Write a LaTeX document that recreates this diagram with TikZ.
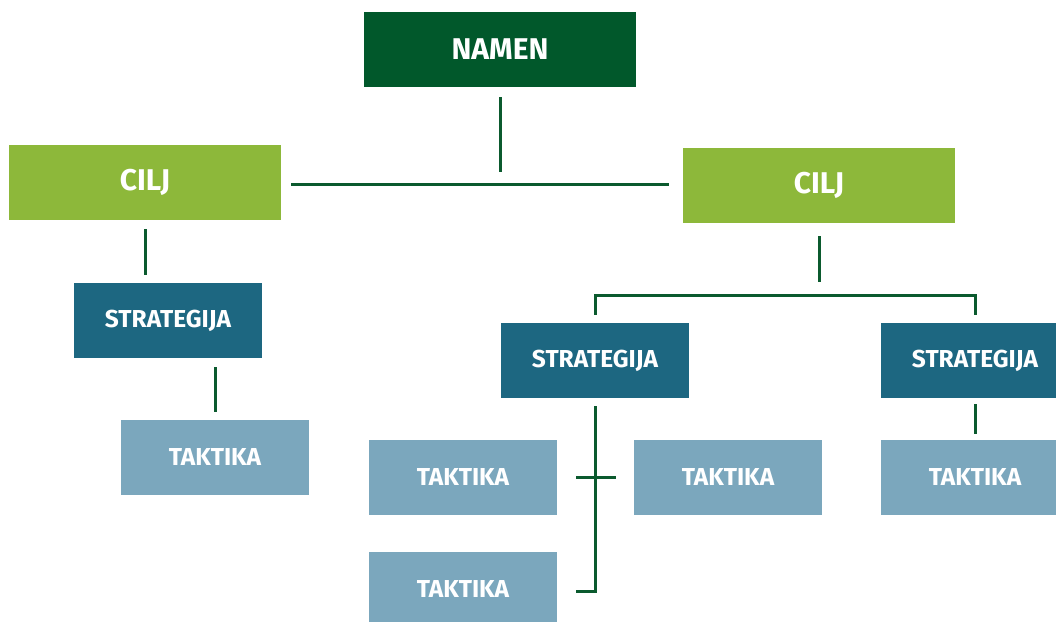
\documentclass[tikz,border=0pt]{standalone}
\usepackage{fontspec}
\setmainfont{Fira Sans}
\usetikzlibrary{calc}
\definecolor{cNamen}{HTML}{01582B}
\definecolor{cCilj}{HTML}{8DB83A}
\definecolor{cStrat}{HTML}{1D6781}
\definecolor{cTak}{HTML}{7BA7BD}
\definecolor{cLine}{HTML}{0B5A2E}
\tikzset{
  box/.style={inner sep=0pt, text=white, font=\bfseries},
  bigbox/.style={box, minimum width=272pt, minimum height=75pt, font=\bfseries\fontsize{30}{32}\selectfont},
  smallbox/.style={box, minimum width=188pt, minimum height=75pt, font=\bfseries\fontsize{24.5}{26}\selectfont},
  namenbox/.style={bigbox, fill=cNamen},
  ciljbox/.style={bigbox, fill=cCilj},
  stratbox/.style={smallbox, fill=cStrat},
  takbox/.style={smallbox, fill=cTak},
  conn/.style={draw=cLine, line width=3pt}
}
\begin{document}
\begin{tikzpicture}[x=1pt,y=-1pt]
\useasboundingbox (0,0) rectangle (1056,621);
\node[namenbox] (namen) at (500,49.5) {NAMEN};
\node[ciljbox] (cilj1) at (145,182.5) {CILJ};
\node[ciljbox] (cilj2) at (819,185.5) {CILJ};
\node[stratbox] (strat1) at (168,320.5) {STRATEGIJA};
\node[stratbox] (strat2) at (595,360.5) {STRATEGIJA};
\node[stratbox] (strat3) at (975,360.5) {STRATEGIJA};
\node[takbox] (tak0) at (215,457.5) {TAKTIKA};
\node[takbox] (tak1) at (463,477.5) {TAKTIKA};
\node[takbox] (tak2) at (728,477.5) {TAKTIKA};
\node[takbox] (tak4) at (975,477.5) {TAKTIKA};
\node[takbox] (tak3) at (463,589.5) {TAKTIKA};
\coordinate (mid) at (500,184);
% connectors
\draw[conn, shorten <=10pt, shorten >=12pt] (namen.south) -- (namen.south |- mid);
\draw[conn, shorten <=10pt, shorten >=14pt] (cilj1.east |- mid) -- (cilj2.west |- mid);
\draw[conn, shorten <=9pt, shorten >=8pt] (cilj1.south) -- (cilj1.south |- strat1.north);
\draw[conn, shorten <=9pt, shorten >=8pt] (tak0.north |- strat1.south) -- (tak0.north);
\draw[conn, shorten <=13pt, shorten >=14pt] (cilj2.south) -- ($(cilj2.south |- strat2.north)+(0,-27)$);
\draw[conn, shorten <=8pt, shorten >=8pt] (strat2.north) -- ++(0,-27) -| (strat3.north);
\draw[conn, shorten <=8pt, shorten >=19pt] (strat2.south) -- ($(strat2.south |- tak3.east)+(0,1.5)$) -- ($(tak3.east)+(0,1.5)$);
\draw[conn, shorten <=19pt, shorten >=18pt] (tak1.east) -- (tak2.west);
\draw[conn, shorten <=6pt, shorten >=6pt] (strat3.south) -- (tak4.north);
\end{tikzpicture}
\end{document}
